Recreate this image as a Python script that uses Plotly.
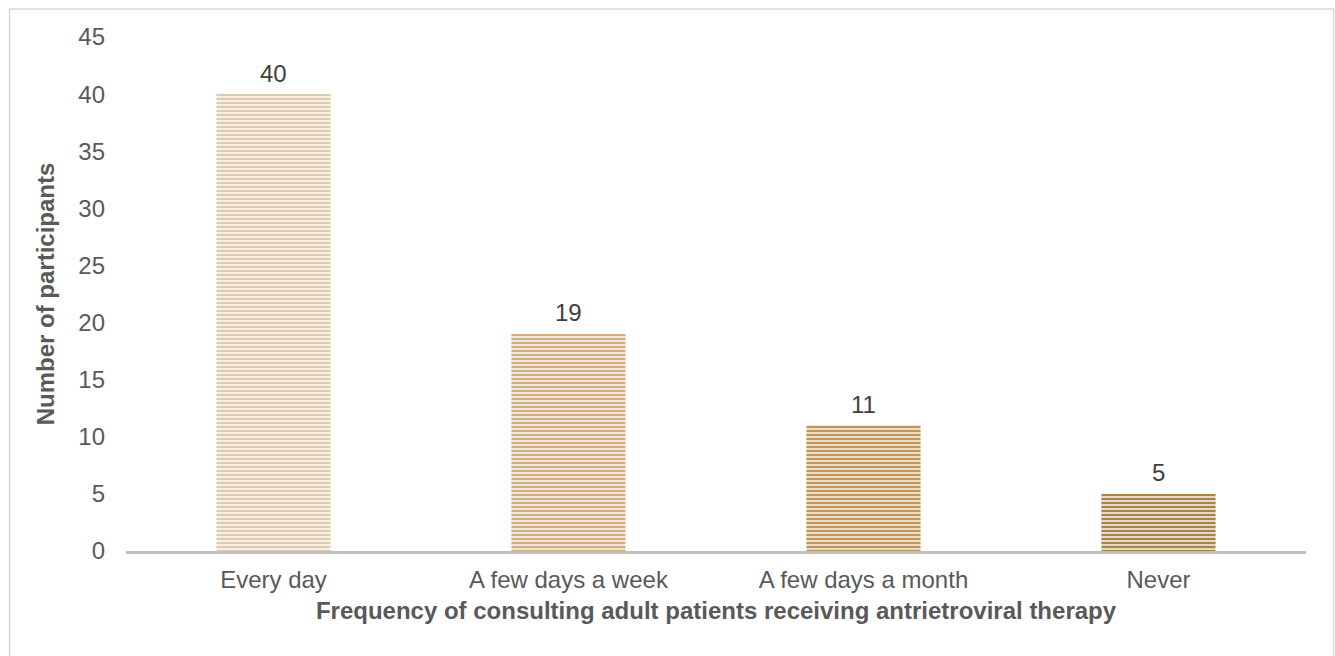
import plotly.graph_objects as go

categories = ["Every day", "A few days a week", "A few days a month", "Never"]
participants = [40, 19, 11, 5]
stripe_colors = ["#e0c9ad", "#d2ae80", "#c0955a", "#a7834e"]
base_colors = ["#f7efe5", "#f2e6d6", "#ecdcc3", "#e8d8be"]

font_family = "Arial, Liberation Sans, sans-serif"

fig = go.Figure()
# one trace per category so each bar gets its own striped fill
for cat, val, fg, bg in zip(categories, participants, stripe_colors, base_colors):
    fig.add_trace(go.Bar(
        x=[cat],
        y=[val],
        width=0.387,
        marker=dict(
            color=bg,
            line=dict(width=0),
            pattern=dict(shape="-", fgcolor=fg, bgcolor=bg, fgopacity=1,
                         size=4, solidity=0.5, fillmode="replace"),
        ),
        hovertemplate="%{x}: %{y}<extra></extra>",
        showlegend=False,
    ))
    # value label above the bar
    fig.add_annotation(
        x=cat, y=val, text=str(val), showarrow=False,
        yanchor="middle", yshift=21,
        font=dict(size=24, color="#404040", family=font_family),
    )

fig.update_layout(
    width=1335, height=656,
    margin=dict(l=126, r=29, t=37, b=105),
    paper_bgcolor="white",
    plot_bgcolor="white",
    barmode="overlay",
    font=dict(family=font_family, size=24, color="#595959"),
    xaxis=dict(
        showline=True, linecolor="#bfbfbf", linewidth=3,
        ticks="", showgrid=False, ticklabelstandoff=5,
        categoryorder="array", categoryarray=categories,
        tickfont=dict(size=24, color="#595959"),
        title=dict(text="<b>Frequency of consulting adult patients receiving antrietroviral therapy</b>",
                   font=dict(size=24, color="#595959"), standoff=11),
    ),
    yaxis=dict(
        range=[0, 45], dtick=5, showgrid=False, zeroline=False,
        showline=False, ticks="", ticklabelstandoff=20,
        tickfont=dict(size=24, color="#595959"),
        title=dict(text="<b>Number of participants</b>",
                   font=dict(size=24, color="#595959"), standoff=16),
    ),
    shapes=[dict(
        type="rect", xref="paper", yref="paper",
        x0=-0.0987, x1=1.0234, y0=-0.3, y1=1.0545,
        line=dict(color="#d9d9d9", width=1.5), fillcolor="rgba(0,0,0,0)",
        layer="below",
    )],
)

fig.write_html("out.html")
